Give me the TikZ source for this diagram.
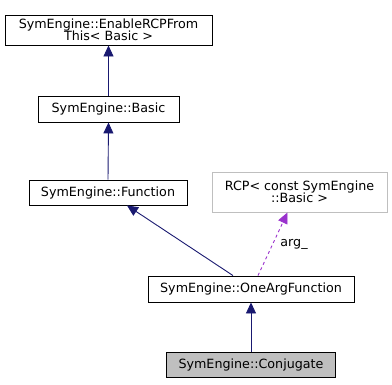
\documentclass[tikz,border=0pt]{standalone}
\usepackage{fontspec}
\setmainfont{DejaVu Sans}
\usetikzlibrary{arrows.meta,positioning}

\begin{document}
\begin{tikzpicture}[
    x=1pt, y=-1pt,
    node font=\fontsize{12.7}{15}\selectfont,
    class box/.style={draw=black, fill=white, line width=0.9pt, inner sep=0pt, align=center},
    ext box/.style={draw=gray!50, fill=white, line width=0.9pt, inner sep=0pt, align=center},
    inherit/.style={draw={rgb,255:red,25;green,25;blue,112}, line width=0.9pt,
        -{Triangle[length=11pt, width=10pt]}},
    member/.style={draw={rgb,255:red,154;green,50;blue,205}, line width=0.9pt, dashed,
        -{Triangle[length=11pt, width=10pt]}},
]

\useasboundingbox (0,0) rectangle (392,384);

% Classes
\node[class box, minimum width=207pt, minimum height=30pt] (erb) at (108.5,30)
    {SymEngine::EnableRCPFrom\\[-3pt]This< Basic >};
\node[class box, minimum width=141pt, minimum height=26pt] (basic) at (108.5,109) {SymEngine::Basic};
\node[class box, minimum width=158pt, minimum height=25pt] (func) at (108,192.5) {SymEngine::Function};
\node[ext box, minimum width=175pt, minimum height=40pt] (rcp) at (299.5,192)
    {RCP< const SymEngine\\[-3pt]::Basic >};
\node[class box, minimum width=206pt, minimum height=26pt] (oaf) at (251,289) {SymEngine::OneArgFunction};
\node[class box, fill=gray!50, minimum width=169pt, minimum height=25pt] (conj) at (251,365) {SymEngine::Conjugate};

% Inheritance
\draw[inherit] (basic.north) -- (erb.south);
\draw[inherit] (func.north) -- (basic.south);
\draw[inherit] ([xshift=-18pt]oaf.north) -- ([xshift=19pt]func.south);
\draw[inherit] (conj.north) -- (oaf.north |- oaf.south);

% Member link
\draw[member] ([xshift=7pt]oaf.north) -- ([xshift=-12pt]rcp.south)
    node[pos=0.5, right=3pt] {arg\_};

\end{tikzpicture}
\end{document}
